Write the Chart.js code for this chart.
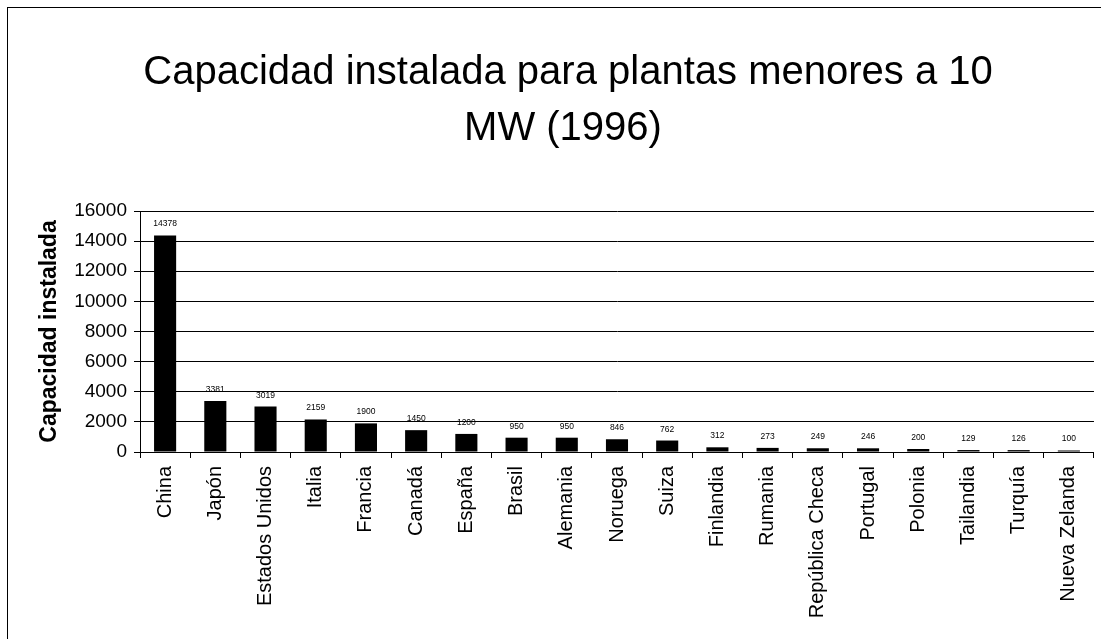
<!DOCTYPE html>
<html>
<head>
<meta charset="utf-8">
<script src="https://cdn.jsdelivr.net/npm/chart.js@4/dist/chart.umd.min.js"></script>
<style>
  body { margin: 0; background: #fff; }
  canvas { display: block; }
</style>
</head>
<body>
<canvas id="chart" width="1101" height="639"></canvas>
<script>
// data
const paises = ['China', 'Japón', 'Estados Unidos', 'Italia', 'Francia', 'Canadá', 'España', 'Brasil',
  'Alemania', 'Noruega', 'Suiza', 'Finlandia', 'Rumania', 'República Checa', 'Portugal', 'Polonia',
  'Tailandia', 'Turquía', 'Nueva Zelanda'];
const capacidad = [14378, 3381, 3019, 2159, 1900, 1450, 1200, 950, 950, 846, 762, 312, 273, 249, 246, 200, 129, 126, 100];
const tituloLineas = ['Capacidad instalada para plantas menores a 10', 'MW (1996)'];
const tituloEje = 'Capacidad instalada';

const FONT = '"Liberation Sans", Arial, sans-serif';

// frame + title drawn by hand, like the original sheet
const marco = {
  id: 'marco',
  beforeDraw(chart) {
    const ctx = chart.ctx;
    ctx.save();
    ctx.fillStyle = '#fff';
    ctx.fillRect(0, 0, chart.width, chart.height);
    ctx.strokeStyle = '#000';
    ctx.lineWidth = 1;
    ctx.strokeRect(7.5, 7.5, 1300, 1300);
    ctx.fillStyle = '#000';
    ctx.font = '40px ' + FONT;
    ctx.textAlign = 'center';
    ctx.textBaseline = 'alphabetic';
    ctx.fillText(tituloLineas[0], 568, 84);
    ctx.fillText(tituloLineas[1], 563, 140);
    ctx.restore();
  }
};

const etiquetas = {
  id: 'etiquetas',
  afterDatasetsDraw(chart) {
    const ctx = chart.ctx;
    const meta = chart.getDatasetMeta(0);
    ctx.save();
    ctx.fillStyle = '#000';
    ctx.font = '8.5px ' + FONT;
    ctx.textAlign = 'center';
    ctx.textBaseline = 'alphabetic';
    meta.data.forEach((bar, i) => {
      ctx.fillText(capacidad[i], bar.x, bar.y - 9);
    });
    ctx.restore();
  }
};

new Chart(document.getElementById('chart').getContext('2d'), {
  type: 'bar',
  data: {
    labels: paises,
    datasets: [{
      data: capacidad,
      backgroundColor: '#000',
      borderWidth: 0,
      barPercentage: 0.44,
      categoryPercentage: 1
    }]
  },
  options: {
    responsive: false,
    animation: false,
    events: [],
    layout: { padding: { top: 211, left: 8, right: 5, bottom: 0 } },
    plugins: {
      legend: { display: false },
      tooltip: { enabled: false }
    },
    scales: {
      x: {
        afterFit(scale) { scale.height = 187; },
        grid: { offset: true, drawOnChartArea: false, tickLength: 6, color: '#000' },
        border: { color: '#000' },
        ticks: {
          minRotation: 90,
          maxRotation: 90,
          autoSkip: false,
          padding: 8,
          color: '#000',
          font: { family: FONT, size: 20 }
        }
      },
      y: {
        min: 0,
        max: 16000,
        afterFit(scale) { scale.width = 132; },
        grid: { color: '#000', tickLength: 6 },
        border: { color: '#000' },
        ticks: {
          stepSize: 2000,
          padding: 7,
          color: '#000',
          font: { family: FONT, size: 19 },
          callback: v => String(v)
        },
        title: {
          display: true,
          text: tituloEje,
          color: '#000',
          padding: { top: 28, bottom: 0 },
          font: { family: FONT, size: 23, weight: 'bold' }
        }
      }
    }
  },
  plugins: [marco, etiquetas]
});
</script>
</body>
</html>
